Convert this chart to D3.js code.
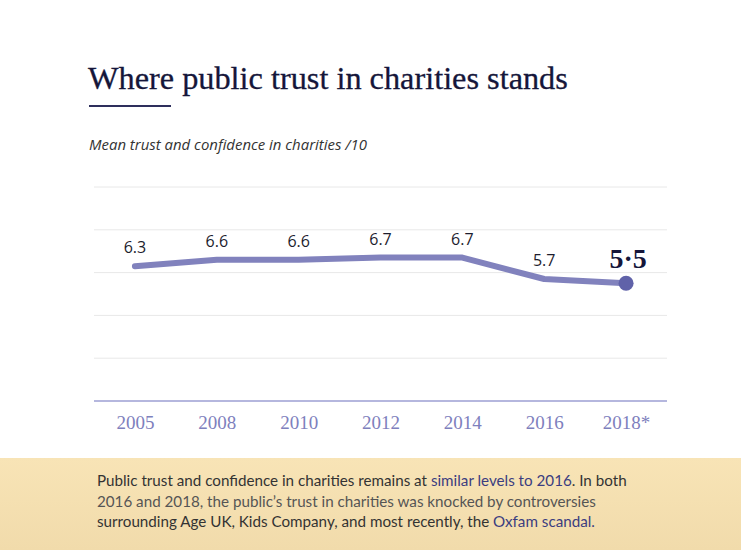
<!DOCTYPE html>
<html>
<head>
<meta charset="utf-8">
<script src="https://cdn.jsdelivr.net/npm/d3@7"></script>
<style>
  html, body { margin: 0; padding: 0; background: #fff; }
  svg { display: block; }
</style>
</head>
<body>
<div id="chart"></div>
<script>
// 数据
const years = ["2005", "2008", "2010", "2012", "2014", "2016", "2018*"];
const trust = [6.3, 6.6, 6.6, 6.7, 6.7, 5.7, 5.5];
const yTicks = [0, 2, 4, 6, 8, 10];

const titleText = "Where public trust in charities stands";
const subtitleText = "Mean trust and confidence in charities /10";
// 底部说明，每行若干片段，hl = 高亮
const noteLines = [
  [{ t: "Public trust and confidence in charities remains at " }, { t: "similar levels to 2016", hl: true }, { t: ". In both" }],
  [{ t: "2016 and 2018, the public\u2019s trust in charities was knocked by controversies", soft: true }],
  [{ t: "surrounding Age UK, Kids Company, and most recently, the " }, { t: "Oxfam scandal", hl: true }, { t: ".", hl: true }]
];

const W = 741, H = 550;
const serif = "'Liberation Serif', 'DejaVu Serif', serif";
const sans = "'Open Sans', 'Noto Sans', sans-serif";
const noteFont = "Lato, 'Open Sans', sans-serif";

const svg = d3.select("#chart").append("svg")
  .attr("width", W)
  .attr("height", H);

// 把文字缩放到给定宽度
function fitWidth(sel, target) {
  const size = parseFloat(sel.attr("font-size"));
  const len = sel.node().getComputedTextLength();
  sel.attr("font-size", (size * target / len).toFixed(2));
}

// 标题
const title = svg.append("text")
  .attr("x", 88).attr("y", 89)
  .attr("font-family", serif)
  .attr("font-size", 30)
  .attr("fill", "#15163a")
  .attr("stroke", "#15163a")
  .attr("stroke-width", 0.3)
  .text(titleText);
fitWidth(title, 480);

svg.append("rect")
  .attr("x", 89).attr("y", 105)
  .attr("width", 82).attr("height", 2)
  .attr("fill", "#2e2f5c");

const sub = svg.append("text")
  .attr("x", 89).attr("y", 150)
  .attr("font-family", sans)
  .attr("font-style", "italic")
  .attr("font-size", 14)
  .attr("fill", "#333")
  .text(subtitleText);
fitWidth(sub, 278);

// 比例尺
const x = d3.scalePoint().domain(years).range([94, 667]).padding(0.5);
const y = d3.scaleLinear().domain([0, 10]).range([401, 187]);

// 网格线
svg.append("g")
  .selectAll("line")
  .data(yTicks.slice(1))
  .join("line")
  .attr("x1", 94).attr("x2", 667)
  .attr("y1", d => y(d)).attr("y2", d => y(d))
  .attr("stroke", "#e8e8e8")
  .attr("stroke-width", 1);

// x轴
const xAxis = svg.append("g")
  .attr("transform", "translate(0," + y(0) + ")")
  .call(d3.axisBottom(x).tickSize(0).tickPadding(15));
xAxis.select(".domain")
  .attr("d", "M94,0H667")
  .attr("stroke", "#9d9fd3")
  .attr("stroke-width", 1.5);
xAxis.selectAll("text")
  .attr("font-family", serif)
  .attr("font-size", 19)
  .attr("fill", "#7e80bd");

const data = years.map((d, i) => ({ year: d, v: trust[i] }));

// 折线
svg.append("path")
  .datum(data)
  .attr("fill", "none")
  .attr("stroke", "#8182bd")
  .attr("stroke-width", 6)
  .attr("stroke-linejoin", "round")
  .attr("stroke-linecap", "round")
  .attr("d", d3.line().x(d => x(d.year)).y(d => y(d.v)));

// 最后一个点
const last = data[data.length - 1];
svg.append("circle")
  .attr("cx", x(last.year))
  .attr("cy", y(last.v))
  .attr("r", 7.5)
  .attr("fill", "#6062a9");

// 数值标签
svg.append("g")
  .selectAll("text")
  .data(data.slice(0, -1))
  .join("text")
  .attr("x", d => x(d.year))
  .attr("y", d => y(d.v) - 13)
  .attr("text-anchor", "middle")
  .attr("font-family", sans)
  .attr("font-size", 16)
  .attr("fill", "#1d1d2e")
  .text(d => d3.format(".1f")(d.v));

svg.append("text")
  .attr("x", x(last.year) + 2)
  .attr("y", y(last.v) - 15)
  .attr("text-anchor", "middle")
  .attr("font-family", serif)
  .attr("font-weight", "bold")
  .attr("font-size", 28)
  .attr("fill", "#15163a")
  .text(d3.format(".1f")(last.v).replace(".", "\u00b7"));

// 底部说明
const grad = svg.append("defs").append("linearGradient")
  .attr("id", "noteBg").attr("x1", 0).attr("y1", 0).attr("x2", 0).attr("y2", 1);
grad.append("stop").attr("offset", "0%").attr("stop-color", "#f8e4b6");
grad.append("stop").attr("offset", "100%").attr("stop-color", "#f1dbab");

svg.append("rect")
  .attr("x", 0).attr("y", 458)
  .attr("width", W).attr("height", H - 458)
  .attr("fill", "url(#noteBg)");

const note = svg.append("g");
noteLines.forEach((line, i) => {
  const t = note.append("text")
    .attr("x", 97)
    .attr("y", 486 + i * 20.5)
    .attr("font-family", noteFont)
    .attr("font-size", 15);
  line.forEach(p => {
    t.append("tspan")
      .attr("fill", p.hl ? "#3b3d80" : (p.soft ? "#555" : "#333"))
      .text(p.t);
  });
  if (i === 0) fitWidth(t, 530);
});
// 其余行与第一行同字号
const noteSize = note.select("text").attr("font-size");
note.selectAll("text").attr("font-size", noteSize);
</script>
</body>
</html>
